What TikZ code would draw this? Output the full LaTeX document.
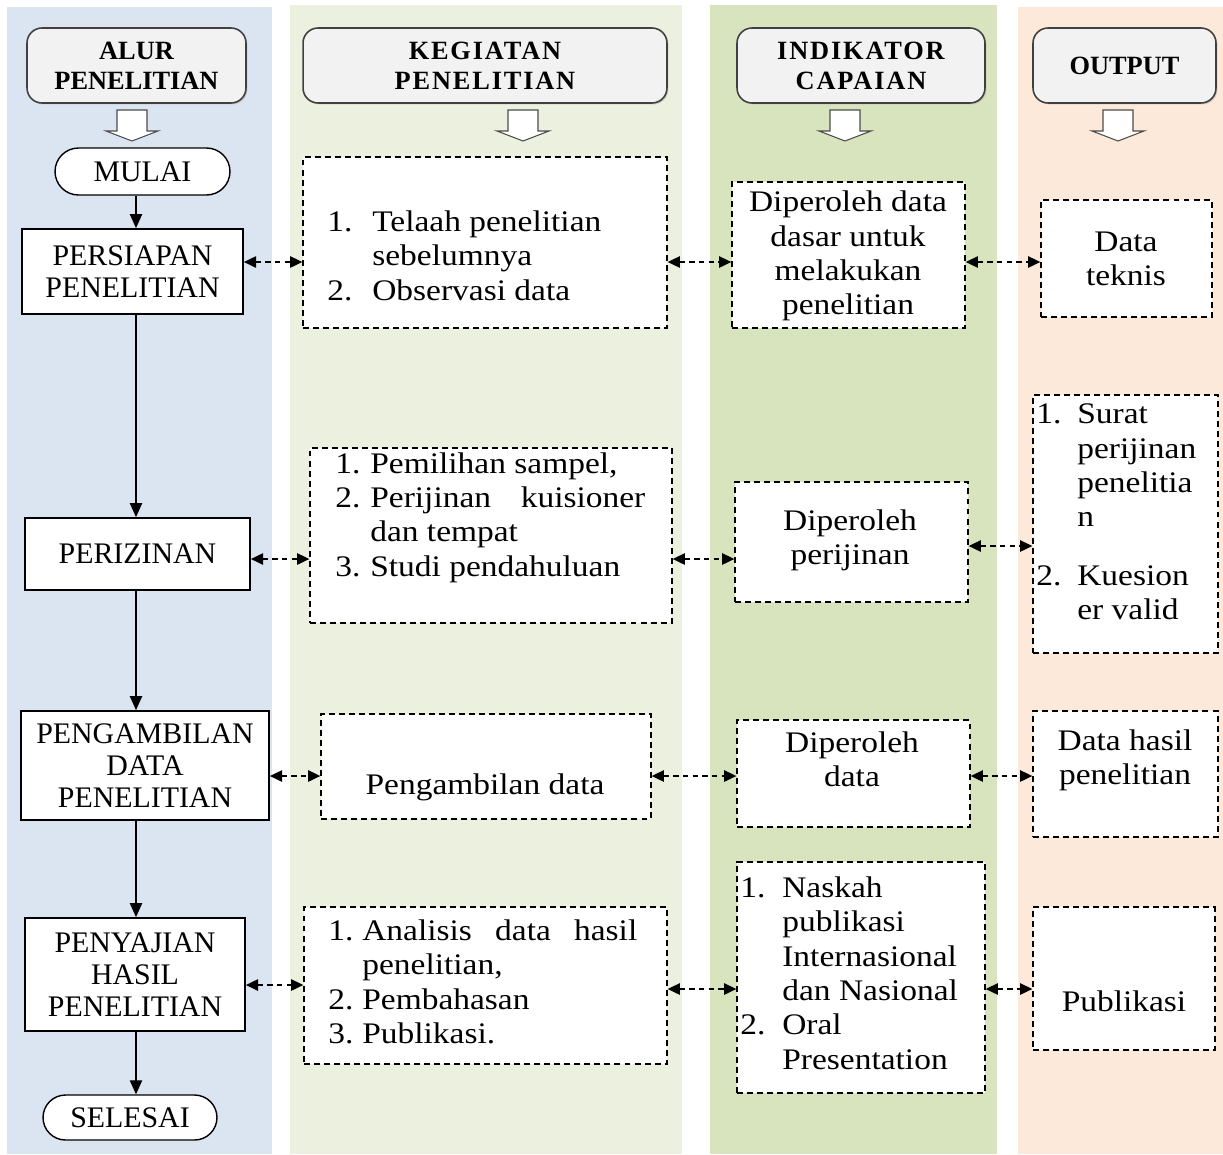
\documentclass[tikz,border=0pt]{standalone}
\usepackage{fontspec}
\usepackage{xcolor,tikz}
\usetikzlibrary{arrows.meta,shapes.misc,shadows}
\setmainfont{Liberation Serif}[FakeStretch=1.12]
\newfontfamily\capsfont{Liberation Serif}
\definecolor{laneblue}{HTML}{DBE5F1}
\definecolor{laneolive}{HTML}{EBF1DE}
\definecolor{lanegreen}{HTML}{D7E4BD}
\definecolor{laneorange}{HTML}{FDE9D9}
\definecolor{headgray}{HTML}{F2F2F2}

\begin{document}
\begin{tikzpicture}[x=0.02cm,y=-0.02cm,
  every node/.style={font=\fontsize{17}{19.5}\selectfont},
  headbox/.style={draw=black!75,line width=0.9pt,fill=headgray,rounded corners=0.3cm,minimum height=1.5cm,inner sep=0pt,align=center,font=\capsfont\bfseries\fontsize{15}{17}\selectfont,drop shadow={shadow xshift=0.8pt,shadow yshift=-0.8pt,fill=black!35}},
  spaced/.style={font=\capsfont\bfseries\fontsize{15}{17}\selectfont\addfontfeature{LetterSpace=7}},
  procbox/.style={draw,line width=1pt,fill=white,inner sep=0pt,align=center,font=\capsfont\fontsize{17}{18}\selectfont},
  termbox/.style={draw,line width=0.8pt,fill=white,rounded rectangle,inner sep=0pt,font=\capsfont\fontsize{17}{18}\selectfont},
  dashbox/.style={draw,line width=0.8pt,dash pattern=on 3.4pt off 2.3pt,fill=white,inner sep=0pt},
  txt/.style={inner sep=0pt,align=center},
  flow/.style={line width=0.8pt,arrows={-Triangle[length=8pt,width=7pt]}},
  link/.style={line width=0.9pt,dash pattern=on 3pt off 2.5pt,arrows={Triangle[length=7pt,width=6.5pt]-Triangle[length=7pt,width=6.5pt]}},
  hollow/.style={draw=black!70,fill=white,line width=0.6pt}]
\useasboundingbox (0,0) rectangle (1223,1154);
\fill[laneblue] (7,7) rectangle (272,1154);
\fill[laneolive] (290,5) rectangle (682,1154);
\fill[lanegreen] (710,5) rectangle (997,1154);
\fill[laneorange] (1018,7) rectangle (1223,1154);
\node[headbox,minimum width=4.38cm] (alur) at (136.5,65.5) {ALUR\\PENELITIAN};
\node[headbox,spaced,minimum width=7.28cm] (kegiatan) at (485,65.5) {KEGIATAN\\PENELITIAN};
\node[headbox,spaced,minimum width=4.96cm] (indikator) at (861,65.5) {INDIKATOR\\CAPAIAN};
\node[headbox,minimum width=3.66cm] (output) at (1124.5,65.5) {OUTPUT};
\draw[hollow] (117,110) -- (147,110) -- (147,131) -- (158,131) -- (132,141) -- (106,131) -- (117,131) -- cycle;
\draw[hollow] (508,110) -- (538,110) -- (538,131) -- (549,131) -- (523,141) -- (497,131) -- (508,131) -- cycle;
\draw[hollow] (830,110) -- (860,110) -- (860,131) -- (871,131) -- (845,141) -- (819,131) -- (830,131) -- cycle;
\draw[hollow] (1103,110) -- (1133,110) -- (1133,131) -- (1144,131) -- (1118,141) -- (1092,131) -- (1103,131) -- cycle;
\node[termbox,minimum width=3.5cm,minimum height=0.94cm] (mulai) at (142.5,171.5) {MULAI};
\node[procbox,minimum width=4.42cm,minimum height=1.7cm] (persiapan) at (132.5,271.5) {PERSIAPAN\\PENELITIAN};
\node[procbox,minimum width=4.5cm,minimum height=1.44cm] (perizinan) at (137.5,554) {PERIZINAN};
\node[procbox,minimum width=4.96cm,minimum height=2.18cm] (pengambilan) at (145,765.5) {PENGAMBILAN\\DATA\\PENELITIAN};
\node[procbox,minimum width=4.4cm,minimum height=2.26cm] (penyajian) at (135,974.5) {PENYAJIAN\\HASIL\\PENELITIAN};
\node[termbox,minimum width=3.48cm,minimum height=0.9cm] (selesai) at (130,1117.5) {SELESAI};
\node[dashbox,minimum width=7.28cm,minimum height=3.42cm] (keg1) at (485,242.5) {};
\node[dashbox,minimum width=4.66cm,minimum height=2.92cm] (ind1) at (848.5,255) {};
\node[dashbox,minimum width=3.42cm,minimum height=2.34cm] (out1) at (1126.5,258.5) {};
\node[dashbox,minimum width=7.24cm,minimum height=3.5cm] (keg2) at (491,535.5) {};
\node[dashbox,minimum width=4.66cm,minimum height=2.4cm] (ind2) at (851.5,542) {};
\node[dashbox,minimum width=3.7cm,minimum height=5.16cm] (out2) at (1125.5,524) {};
\node[dashbox,minimum width=6.6cm,minimum height=2.1cm] (keg3) at (486,766.5) {};
\node[dashbox,minimum width=4.66cm,minimum height=2.14cm] (ind3) at (853.5,773.5) {};
\node[dashbox,minimum width=3.7cm,minimum height=2.52cm] (out3) at (1125.5,774) {};
\node[dashbox,minimum width=7.26cm,minimum height=3.14cm] (keg4) at (485.5,985.5) {};
\node[dashbox,minimum width=4.96cm,minimum height=4.62cm] (ind4) at (861,977.5) {};
\node[dashbox,minimum width=3.64cm,minimum height=2.86cm] (out4) at (1124,978.5) {};
\node[txt,anchor=west] (keg1txt) at (327,259) {\begin{tabular}{@{}p{0.9cm}@{}l@{}}1. & Telaah penelitian\\ & sebelumnya\\ 2. & Observasi data\end{tabular}};
\node[txt] (ind1txt) at (848,256) {Diperoleh data\\dasar untuk\\melakukan\\penelitian};
\node[txt] (out1txt) at (1126,259) {Data\\teknis};
\node[txt,anchor=west] (keg2txt) at (335,518) {\begin{tabular}{@{}p{0.7cm}@{}l@{}}1. & Pemilihan sampel,\\ 2. & \makebox[5.5cm][s]{Perijinan kuisioner}\\ & dan tempat\\ 3. & Studi pendahuluan\end{tabular}};
\node[txt] (ind2txt) at (850,540) {Diperoleh\\perijinan};
\node[txt,anchor=west] (out2txt) at (1036,515) {\begin{tabular}{@{}p{0.82cm}@{}l@{}}1. & Surat\\ & perijinan\\ & penelitia\\ & n\\[14pt] 2. & Kuesion\\ & er valid\end{tabular}};
\node[txt] (keg3txt) at (485,787) {Pengambilan data};
\node[txt] (ind3txt) at (852,759.5) {Diperoleh\\data};
\node[txt] (out3txt) at (1125,760) {Data hasil\\penelitian};
\node[txt,anchor=west] (keg4txt) at (328,985) {\begin{tabular}{@{}p{0.68cm}@{}l@{}}1. & \makebox[5.5cm][s]{Analisis data hasil}\\ & penelitian,\\ 2. & Pembahasan\\ 3. & Publikasi.\end{tabular}};
\node[txt,anchor=west] (ind4txt) at (740,976.5) {\begin{tabular}{@{}p{0.84cm}@{}l@{}}1. & Naskah\\ & publikasi\\ & Internasional\\ & dan Nasional\\ 2. & Oral\\ & Presentation\end{tabular}};
\node[txt] (out4txt) at (1124,1001) {Publikasi};
\coordinate (spine) at (136,0);
\coordinate (r1) at (0,262);
\coordinate (r2a) at (0,559);
\coordinate (r2b) at (0,546);
\coordinate (r3) at (0,776);
\coordinate (r4a) at (0,985);
\coordinate (r4b) at (0,989);
\draw[flow] (mulai.south -| spine) -- (persiapan.north -| spine);
\draw[flow] (persiapan.south -| spine) -- (perizinan.north -| spine);
\draw[flow] (perizinan.south -| spine) -- (pengambilan.north -| spine);
\draw[flow] (pengambilan.south -| spine) -- (penyajian.north -| spine);
\draw[flow] (penyajian.south -| spine) -- (selesai.north -| spine);
\draw[link] (persiapan.east |- r1) -- (keg1.west |- r1);
\draw[link] (keg1.east |- r1) -- (ind1.west |- r1);
\draw[link] (ind1.east |- r1) -- (out1.west |- r1);
\draw[link] (perizinan.east |- r2a) -- (keg2.west |- r2a);
\draw[link] (keg2.east |- r2a) -- (ind2.west |- r2a);
\draw[link] (ind2.east |- r2b) -- (out2.west |- r2b);
\draw[link] (pengambilan.east |- r3) -- (keg3.west |- r3);
\draw[link] (keg3.east |- r3) -- (ind3.west |- r3);
\draw[link] (ind3.east |- r3) -- (out3.west |- r3);
\draw[link] (penyajian.east |- r4a) -- (keg4.west |- r4a);
\draw[link] (keg4.east |- r4b) -- (ind4.west |- r4b);
\draw[link] (ind4.east |- r4b) -- (out4.west |- r4b);
\end{tikzpicture}
\end{document}
